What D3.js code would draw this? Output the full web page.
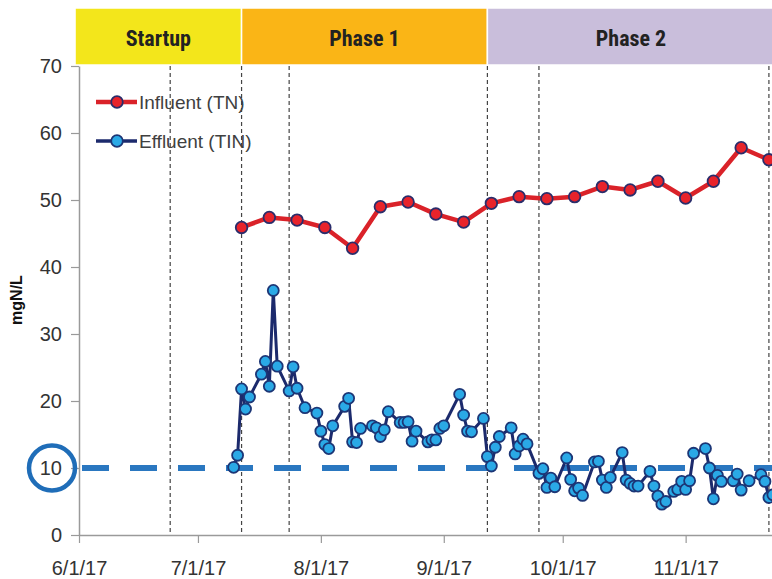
<!DOCTYPE html>
<html>
<head>
<meta charset="utf-8">
<script src="https://cdn.jsdelivr.net/npm/d3@7"></script>
<style>
  html, body { margin: 0; padding: 0; background: #fff; }
  svg { display: block; }
</style>
</head>
<body>
<svg id="chart" width="772" height="579"></svg>
<script>
// ---------------- DATA ----------------
const phaseNames = ["Startup", "Phase 1", "Phase 2"];
const phaseStarts = ["2017-05-31", "2017-07-12", "2017-09-12"];
const phaseEnds   = ["2017-07-12", "2017-09-12", "2017-12-01"];
const phaseColors = ["#f3e61b", "#fab516", "#c9bedb"];

const markerDates = ["2017-06-24", "2017-07-12", "2017-07-24", "2017-09-12", "2017-09-25", "2017-11-22"];

const influentDates = ["2017-07-12","2017-07-19","2017-07-26","2017-08-02","2017-08-09","2017-08-16","2017-08-23",
  "2017-08-30","2017-09-06","2017-09-13","2017-09-20","2017-09-27","2017-10-04","2017-10-11","2017-10-18",
  "2017-10-25","2017-11-01","2017-11-08","2017-11-15","2017-11-22"];
const influentTN = [45.9, 47.4, 47.0, 45.9, 42.8, 49.0, 49.7, 47.9, 46.7, 49.5,
  50.5, 50.2, 50.5, 52.0, 51.5, 52.8, 50.3, 52.8, 57.8, 56.0];

const effluentDates = ["2017-07-10","2017-07-11","2017-07-12","2017-07-13","2017-07-14","2017-07-17","2017-07-18",
  "2017-07-19","2017-07-20","2017-07-21","2017-07-24","2017-07-25","2017-07-26","2017-07-28","2017-07-31",
  "2017-08-01","2017-08-02","2017-08-03","2017-08-04","2017-08-07","2017-08-08","2017-08-09","2017-08-10",
  "2017-08-11","2017-08-14","2017-08-15","2017-08-16","2017-08-17","2017-08-18","2017-08-21","2017-08-22",
  "2017-08-23","2017-08-24","2017-08-25","2017-08-28","2017-08-29","2017-08-30","2017-08-31","2017-09-01",
  "2017-09-05","2017-09-06","2017-09-07","2017-09-08","2017-09-11","2017-09-12","2017-09-13","2017-09-14",
  "2017-09-15","2017-09-18","2017-09-19","2017-09-20","2017-09-21","2017-09-22","2017-09-25","2017-09-26",
  "2017-09-27","2017-09-28","2017-09-29","2017-10-02","2017-10-03","2017-10-04","2017-10-05","2017-10-06",
  "2017-10-09","2017-10-10","2017-10-11","2017-10-12","2017-10-13","2017-10-16","2017-10-17","2017-10-18",
  "2017-10-19","2017-10-20","2017-10-23","2017-10-24","2017-10-25","2017-10-26","2017-10-27","2017-10-29",
  "2017-10-30","2017-10-31","2017-11-01","2017-11-02","2017-11-03","2017-11-06","2017-11-07","2017-11-08",
  "2017-11-09","2017-11-10","2017-11-13","2017-11-14","2017-11-15","2017-11-17","2017-11-20","2017-11-21",
  "2017-11-22","2017-11-23"];
const effluentTIN = [10.1, 11.9, 21.8, 18.8, 20.6, 24.0, 25.9,
  22.2, 36.5, 25.2, 21.5, 25.1, 21.9, 19.0, 18.2,
  15.5, 13.5, 12.9, 16.3, 19.2, 20.4, 13.9, 13.8,
  15.9, 16.3, 16.0, 14.7, 15.7, 18.4, 16.8, 16.8,
  16.9, 14.0, 15.5, 13.9, 14.2, 14.2, 15.9, 16.3,
  21.0, 17.9, 15.5, 15.4, 17.4, 11.7, 10.3, 13.1,
  14.7, 16.0, 12.1, 13.3, 14.3, 13.6, 9.2, 9.9,
  7.1, 8.5, 7.2, 11.5, 8.3, 6.6, 7.0, 5.9,
  10.9, 11.0, 8.2, 7.1, 8.6, 12.3, 8.2, 7.7,
  7.3, 7.3, 9.5, 7.3, 5.8, 4.6, 5.0, 6.5,
  6.8, 8.0, 6.8, 8.1, 12.2, 12.9, 10.0, 5.4,
  8.9, 8.0, 8.1, 9.1, 6.7, 8.1, 9.0, 8.0,
  5.6, 6.0];

const targetValue = 10;
const yTicks = [0, 10, 20, 30, 40, 50, 60, 70];
const xTickDates = ["2017-06-01","2017-07-01","2017-08-01","2017-09-01","2017-10-01","2017-11-01"];
const seriesNames = ["Influent (TN)", "Effluent (TIN)"];
const yLabel = "mgN/L";

// ---------------- SETUP ----------------
const parse = d3.timeParse("%Y-%m-%d");
const svg = d3.select("#chart");
const FONT = "'Liberation Sans', Arial, sans-serif";
const NARROW = "'Liberation Sans Narrow', 'Arial Narrow', 'Roboto Condensed', sans-serif";

const x = d3.scaleTime()
  .domain([parse("2017-06-01"), parse("2017-12-01")])
  .range([79, 79 + 183 * 3.965]);
const y = d3.scaleLinear().domain([0, 70]).range([535, 66]);

// phase banners
const banner = svg.append("g");
phaseNames.forEach((name, i) => {
  const x0 = x(parse(phaseStarts[i])), x1 = x(parse(phaseEnds[i]));
  banner.append("rect")
    .attr("x", x0).attr("y", 8).attr("width", x1 - x0).attr("height", 57)
    .attr("fill", phaseColors[i]).attr("stroke", "#fff").attr("stroke-width", 1.5);
  const cx = (x0 + Math.min(x1, 772)) / 2;
  banner.append("text")
    .attr("x", i === 2 ? 631 : cx).attr("y", 46)
    .attr("text-anchor", "middle")
    .attr("font-family", NARROW).attr("font-weight", "bold")
    .attr("font-size", 22).attr("fill", "#222")
    .text(name);
});

// vertical dashed markers
svg.append("g").selectAll("line").data(markerDates).join("line")
  .attr("x1", d => x(parse(d))).attr("x2", d => x(parse(d)))
  .attr("y1", y(70)).attr("y2", y(0))
  .attr("stroke", "#444").attr("stroke-width", 1.2)
  .attr("stroke-dasharray", "4,3");

// axes
const yAxis = d3.axisLeft(y).tickValues(yTicks).tickSize(8).tickSizeOuter(0).tickPadding(9);
const gy = svg.append("g").attr("transform", "translate(79,0)").call(yAxis);
gy.select(".domain").attr("stroke", "#9a9a9a").attr("stroke-width", 1.5);
gy.selectAll(".tick line").attr("stroke", "#9a9a9a").attr("stroke-width", 1.2);
gy.selectAll(".tick text").attr("font-family", FONT).attr("font-size", 20).attr("fill", "#333");

const xAxis = d3.axisBottom(x).tickValues(xTickDates.map(parse))
  .tickFormat(d3.timeFormat("%-m/%-d/%y")).tickSize(8).tickSizeOuter(0).tickPadding(18);
const gx = svg.append("g").attr("transform", "translate(0,535)").call(xAxis);
gx.select(".domain").attr("stroke", "#9a9a9a").attr("stroke-width", 1.5);
gx.selectAll(".tick line").attr("stroke", "#9a9a9a").attr("stroke-width", 1.2);
gx.selectAll(".tick text").attr("font-family", FONT).attr("font-size", 20).attr("fill", "#333");

// y label
svg.append("text")
  .attr("transform", "translate(22,300) rotate(-90)")
  .attr("text-anchor", "middle")
  .attr("font-family", FONT).attr("font-weight", "bold").attr("font-size", 16).attr("fill", "#111")
  .text(yLabel);

// target line at 10
svg.append("line")
  .attr("x1", 82).attr("x2", 800)
  .attr("y1", y(targetValue)).attr("y2", y(targetValue))
  .attr("stroke", "#2a77c0").attr("stroke-width", 6)
  .attr("stroke-dasharray", "27,21");

// circle around "10"
svg.append("ellipse")
  .attr("cx", 52).attr("cy", y(targetValue))
  .attr("rx", 23).attr("ry", 22.5)
  .attr("fill", "none").attr("stroke", "#1f6db8").attr("stroke-width", 4.5);

// series
const eff = effluentDates.map((d, i) => ({ date: parse(d), v: effluentTIN[i] }));
const inf = influentDates.map((d, i) => ({ date: parse(d), v: influentTN[i] }));
const line = d3.line().x(d => x(d.date)).y(d => y(d.v));

svg.append("path").datum(eff).attr("d", line)
  .attr("fill", "none").attr("stroke", "#1c2a6c").attr("stroke-width", 3).attr("stroke-linejoin", "round");
svg.append("g").selectAll("circle").data(eff).join("circle")
  .attr("cx", d => x(d.date)).attr("cy", d => y(d.v)).attr("r", 5.5)
  .attr("fill", "#2aa9e6").attr("stroke", "#1c3676").attr("stroke-width", 1.8);

svg.append("path").datum(inf).attr("d", line)
  .attr("fill", "none").attr("stroke", "#da2229").attr("stroke-width", 4.5).attr("stroke-linejoin", "round");
svg.append("g").selectAll("circle").data(inf).join("circle")
  .attr("cx", d => x(d.date)).attr("cy", d => y(d.v)).attr("r", 5.8)
  .attr("fill", "#e8232b").attr("stroke", "#2a2d6b").attr("stroke-width", 1.8);

// legend
const legend = svg.append("g");
const legendStyles = [
  { line: "#da2229", fill: "#e8232b", stroke: "#2a2d6b", w: 4.5 },
  { line: "#1c2a6c", fill: "#2aa9e6", stroke: "#1c3676", w: 3.5 }
];
seriesNames.forEach((name, i) => {
  const ly = 102 + i * 39;
  const s = legendStyles[i];
  legend.append("line").attr("x1", 96).attr("x2", 137).attr("y1", ly).attr("y2", ly)
    .attr("stroke", s.line).attr("stroke-width", s.w);
  legend.append("circle").attr("cx", 117).attr("cy", ly).attr("r", 5.8)
    .attr("fill", s.fill).attr("stroke", s.stroke).attr("stroke-width", 1.8);
  legend.append("text").attr("x", 139).attr("y", ly).attr("dy", "0.35em")
    .attr("font-family", FONT).attr("font-size", 19).attr("fill", "#404040")
    .text(name);
});
</script>
</body>
</html>
